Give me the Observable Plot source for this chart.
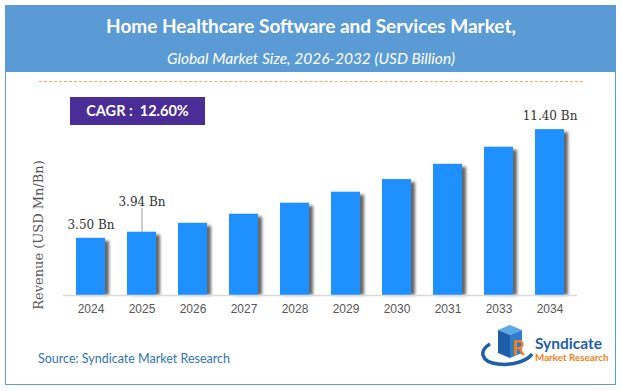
<!DOCTYPE html>
<html><head><meta charset="utf-8">
<script src="https://cdn.jsdelivr.net/npm/d3@7"></script>
<script src="https://cdn.jsdelivr.net/npm/@observablehq/plot@0.6"></script>
<style>
html,body{margin:0;padding:0;background:#fff;}
#wrap{position:relative;width:622px;height:391px;overflow:hidden;font-family:Lato,"Open Sans",sans-serif;}
#chart{position:absolute;left:0;top:0;}
#frame{position:absolute;left:5px;top:5px;width:611px;height:380px;border:1.5px solid #5b9bd5;box-sizing:border-box;}
#header{position:absolute;left:5px;top:5px;width:611px;height:67px;background:#5b9bd5;}
#title{position:absolute;left:0;width:622px;top:14px;line-height:24px;text-align:center;color:#fff;font-weight:700;font-size:19px;}
#subtitle{position:absolute;left:0;width:622px;top:48px;line-height:20px;text-align:center;color:#fff;font-style:italic;font-size:15.5px;}
#dash{position:absolute;left:39px;top:81px;width:544px;border-top:1.5px dashed #f5a56d;}
#cagr{position:absolute;left:70px;top:97px;width:135px;height:28px;line-height:28px;background:#4a2d96;color:#fff;font-weight:700;font-size:14.5px;text-align:center;white-space:pre;}
#ylabel{position:absolute;left:38px;top:235px;transform:translate(-50%,-50%) rotate(-90deg);white-space:nowrap;font-family:"DejaVu Serif";font-size:13px;color:#555;}
#source{position:absolute;left:38px;top:351px;line-height:16px;font-size:12.5px;color:#2e75b6;}
#logo{position:absolute;left:476px;top:322px;}
</style></head>
<body>
<div id="wrap">
  <div id="chart"></div>
  <div id="header"></div>
  <div id="frame"></div>
  <div id="title">Home Healthcare Software and Services Market,</div>
  <div id="subtitle">Global Market Size, 2026-2032 (USD Billion)</div>
  <div id="dash"></div>
  <div id="cagr">CAGR :  12.60%</div>
  <div id="ylabel">Revenue (USD Mn/Bn)</div>
  <div id="source">Source: Syndicate Market Research</div>
  <svg id="logo" width="135" height="48" viewBox="0 0 135 48">
    <path d="M14 22 C3 28, 4 40, 22 42 C38 44, 52 38, 56 32" fill="none" stroke="#1f5ea8" stroke-width="3.5"/>
    <path d="M22 8 L34 3 L46 8 L34 13 Z" fill="#5aa9e6"/>
    <path d="M22 8 L34 13 L34 36 L22 31 Z" fill="#1f5ea8"/>
    <path d="M34 13 L46 8 L46 31 L34 36 Z" fill="#2f7dd0"/>
    <text x="36" y="33" font-family="Lato,sans-serif" font-weight="700" font-size="20" fill="#f47f20">R</text>
    <text x="59" y="27" font-family="Lato,sans-serif" font-weight="700" font-size="15.5" fill="#1f5ea8">Syndicate</text>
    <text x="59" y="39" font-family="Lato,sans-serif" font-weight="700" font-size="9.8" fill="#f47f20">Market Research</text>
  </svg>
</div>
<script>
const years = ["2024","2025","2026","2027","2028","2029","2030","2031","2033","2034"];
const revenue = [3.50, 3.94, 4.59, 5.25, 6.05, 6.85, 7.77, 8.88, 10.12, 11.40];
const labelYears = ["2024","2025","2034"];
const labelTexts = ["3.50 Bn","3.94 Bn","11.40 Bn"];
const yMin = -0.66, yMax = 12.5;

const data = years.map((year, i) => ({year, value: revenue[i]}));
const labels = labelYears.map((year, i) => ({year, value: revenue[years.indexOf(year)], text: labelTexts[i]}));
const near = labels.filter(d => d.year !== "2025");
const lifted = labels.filter(d => d.year === "2025");

const svg = Plot.plot({
  width: 622, height: 391,
  marginLeft: 63, marginRight: 45, marginTop: 114, marginBottom: 96,
  style: {background: "transparent", fontFamily: "Liberation Sans, Arial, sans-serif", fontSize: "12px", color: "#555"},
  x: {domain: years, paddingInner: 0.43, paddingOuter: 0.215, align: 0.5, tickSize: 0, tickPadding: 9, label: null},
  y: {domain: [yMin, yMax], axis: null},
  marks: [
    Plot.barY(data, {x: "year", y1: yMin, y2: "value", fill: "#666", dx: 4, insetTop: 3}),
    Plot.barY(data, {x: "year", y1: yMin, y2: "value", fill: "#1e90ff"}),
    Plot.ruleY([yMin], {stroke: "#d9d9d9", strokeWidth: 1.5}),
    Plot.ruleX(lifted, {x: "year", y1: "value", y2: d => d.value + 1.75, stroke: "#999"}),
    Plot.text(near, {x: "year", y: "value", text: "text", dy: -13, fontFamily: "DejaVu Serif", fontSize: 12, fill: "#333"}),
    Plot.text(lifted, {x: "year", y: "value", text: "text", dy: -30, fontFamily: "DejaVu Serif", fontSize: 12, fill: "#333"})
  ]
});
const ns = "http://www.w3.org/2000/svg";
const defs = document.createElementNS(ns, "defs");
defs.innerHTML = '<filter id="sh" x="-50%" y="-10%" width="200%" height="120%"><feGaussianBlur stdDeviation="1.6"/></filter>';
svg.prepend(defs);
const g = svg.querySelector('g[aria-label="bar"]');
if (g) g.setAttribute("filter", "url(#sh)");
document.getElementById("chart").appendChild(svg);
</script>
</body></html>
